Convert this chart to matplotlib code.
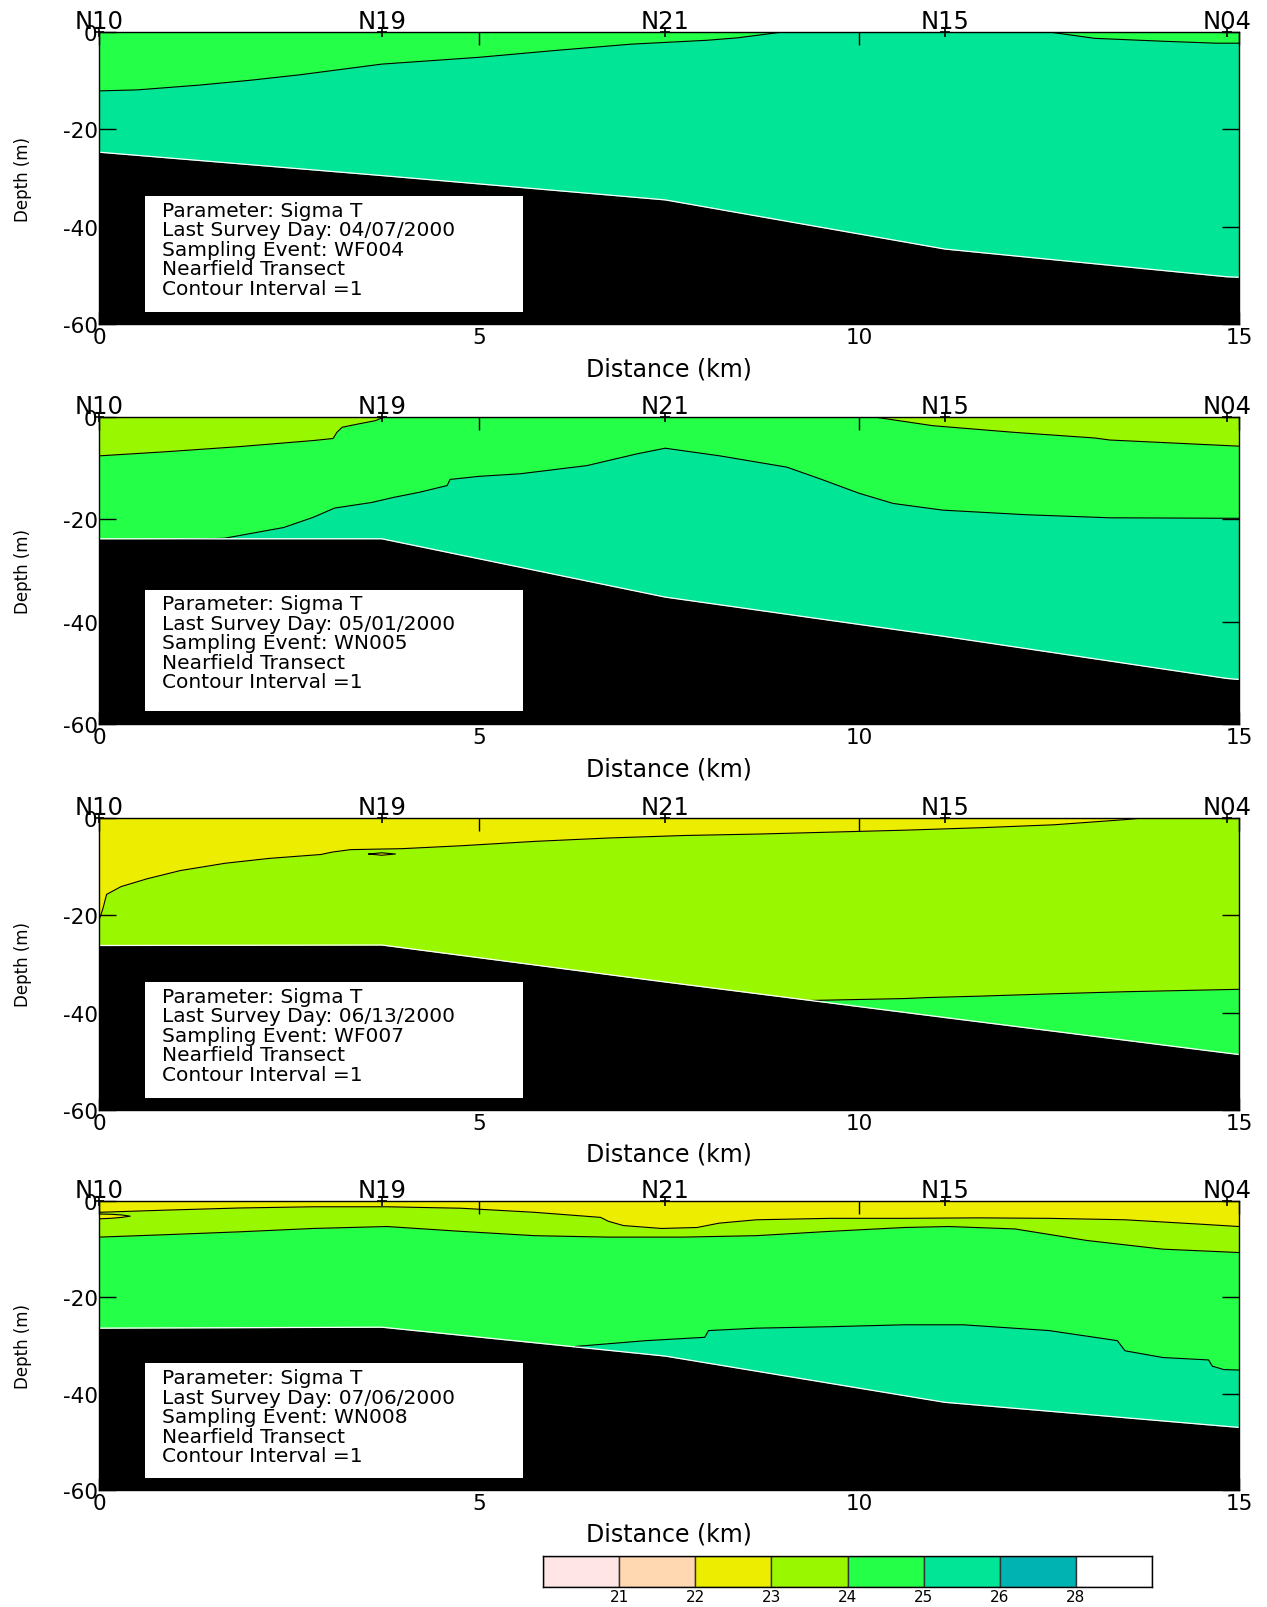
import matplotlib
matplotlib.use('Agg')
import matplotlib.pyplot as plt
from matplotlib.patches import Rectangle
from matplotlib.transforms import blended_transform_factory

plt.rcParams['font.family'] = ['DejaVu Sans']

# Station positions along the transect (km)
stations = ['N10', 'N19', 'N21', 'N15', 'N04']
station_km = [0, 3.72, 7.45, 11.13, 14.84]

# legend classes
cbar_colors = ['#FFE5E5', '#FFD7B1', '#EDED00', '#99F700', '#24FF48', '#00E696', '#00B3B3', '#FFFFFF']
cbar_labels = ['21', '22', '23', '24', '25', '26', '28']
yellow, lime, green, teal = '#EDED00', '#99F700', '#24FF48', '#00E696'

# bottom depth (m) at the stations + end of transect
bathy_km = [0, 3.72, 7.45, 11.13, 14.84, 15.0]
p1_bathy = [24.7, 29.5, 34.5, 44.6, 50.3, 50.4]
p2_bathy = [23.8, 23.8, 35.2, 42.9, 51.1, 51.3]
p3_bathy = [26.2, 26.1, 33.7, 41.0, 48.3, 48.6]
p4_bathy = [26.4, 26.2, 32.2, 41.8, 46.8, 47.0]

# ---- 04/07/2000 isopycnal depths (m)
p1_x25 = [0, 0.5, 1.33, 2.0, 2.64, 3.72, 5.0, 6.0, 7.0, 8.0, 8.4, 8.8, 9.0, 12.5, 13.1, 14.0, 14.7, 15.0]
p1_d25 = [12.1, 11.9, 10.9, 9.9, 8.8, 6.6, 5.2, 3.8, 2.5, 1.7, 1.2, 0.4, 0.0, 0.0, 1.3, 1.9, 2.3, 2.3]

# ---- 05/01/2000
p2_x24 = [0, 0.87, 1.84, 2.82, 3.08, 3.13, 3.2, 3.4, 3.64, 3.75, 10.2, 10.97, 12.04, 13.1, 13.3, 15.0]
p2_d24 = [7.6, 6.8, 5.8, 4.6, 4.2, 3.0, 2.0, 1.4, 0.7, 0.0, 0.0, 1.7, 3.0, 4.1, 4.5, 5.7]
p2_x25 = [0, 1.0, 1.65, 2.43, 2.82, 3.1, 3.59, 3.88, 4.22, 4.58, 4.62, 5.0, 5.54, 6.42, 7.08, 7.45,
          8.17, 9.05, 9.49, 10.0, 10.45, 11.1, 12.2, 13.3, 15.0]
p2_d25 = [24.3, 24.0, 23.7, 21.6, 19.6, 17.8, 16.7, 15.7, 14.7, 13.4, 12.2, 11.6, 11.1, 9.5, 7.2, 6.1,
          7.6, 9.8, 12.1, 14.9, 16.9, 18.2, 19.1, 19.7, 19.8]

# ---- 06/13/2000
p3_x23 = [0, 0.05, 0.1, 0.29, 0.63, 1.07, 1.66, 2.24, 2.92, 3.07, 3.31, 3.99, 4.77, 5.74, 6.72,
          7.69, 8.67, 9.64, 10.61, 11.59, 12.56, 13.53, 13.73, 15.0]
p3_d23 = [21.0, 18.7, 15.7, 14.1, 12.5, 10.8, 9.3, 8.3, 7.5, 7.0, 6.5, 6.3, 5.7, 4.8, 4.1,
          3.6, 3.3, 2.9, 2.5, 2.0, 1.4, 0.3, 0.0, 0.0]
p3_x24 = [0, 9.0, 9.35, 10.6, 10.9, 11.6, 12.6, 13.5, 15.0]
p3_d24 = [60, 60, 37.5, 37.1, 36.9, 36.6, 36.1, 35.7, 35.2]
p3_lens_x = [3.55, 3.72, 3.9]
p3_lens_top = [7.4, 7.15, 7.4]
p3_lens_bot = [7.4, 7.65, 7.4]

# ---- 07/06/2000
p4_x23 = [0, 0.87, 1.85, 2.82, 3.79, 4.76, 5.73, 6.6, 6.7, 6.9, 7.4, 7.87, 8.16, 8.65, 9.62,
          10.6, 11.56, 12.5, 13.5, 14.48, 15.0]
p4_d23 = [2.35, 1.9, 1.45, 1.2, 1.2, 1.5, 2.35, 3.4, 4.2, 5.1, 5.7, 5.5, 4.6, 3.9, 3.6,
          3.6, 3.5, 3.6, 3.9, 4.8, 5.3]
p4_x24 = [0, 0.87, 1.85, 2.82, 3.79, 4.76, 5.73, 6.7, 7.68, 8.65, 9.62, 10.6, 11.18, 12.05, 13.0, 14.0, 15.0]
p4_d24 = [7.5, 7.0, 6.4, 5.7, 5.3, 6.3, 7.2, 7.5, 7.5, 7.2, 6.3, 5.5, 5.3, 5.8, 8.2, 10.0, 10.7]
p4_x25 = [0, 6.0, 6.27, 7.19, 7.97, 8.02, 8.65, 9.62, 10.6, 11.37, 12.5, 13.4, 13.5, 14.0, 14.6, 14.65, 14.8, 15.0]
p4_d25 = [60, 60, 30.2, 29.0, 28.3, 26.9, 26.4, 26.1, 25.7, 25.7, 26.9, 29.0, 31.1, 32.5, 33.0, 34.3, 35.0, 35.1]
p4_lens_x = [0, 0.15, 0.3, 0.41]
p4_lens_top = [2.7, 2.75, 2.9, 3.15]
p4_lens_bot = [3.7, 3.6, 3.4, 3.15]

survey_days = ['04/07/2000', '05/01/2000', '06/13/2000', '07/06/2000']
events = ['WF004', 'WN005', 'WF007', 'WN008']

W, H = 1267, 1608
fig = plt.figure(figsize=(W / 100, H / 100), dpi=100)

L, R = 99, 1239


def neg(v):
    return [-d for d in v]


def draw_panel(top, bottom, base, layers, bathy, day, event, lenses=()):
    h = bottom - top
    ax = fig.add_axes([L / W, 1 - bottom / H, (R - L) / W, h / H])
    ax.set_xlim(0, 15)
    ax.set_ylim(-60, 0)

    # water column: densest class first, lighter classes painted over it
    ax.fill_between([0, 15], 0, -60, color=base, lw=0, zorder=1)
    for xs, ds, col in layers:
        ax.fill_between(xs, 0, neg(ds), color=col, lw=0, zorder=1)
    for xs, top_d, bot_d, col in lenses:
        ax.fill_between(xs, neg(top_d), neg(bot_d), color=col, lw=0, zorder=1)
        ax.plot(xs + xs[::-1], neg(top_d) + neg(bot_d)[::-1], color='k', lw=0.8, zorder=2)
    for xs, ds, col in layers:
        ax.plot(xs, neg(ds), color='k', lw=0.8, zorder=2)

    # sea floor
    ax.fill_between(bathy_km, neg(bathy), -60, color='black', lw=0, zorder=3)
    ax.plot(bathy_km, neg(bathy), color='white', lw=0.9, zorder=3)

    # ticks
    ax.set_xticks([0, 5, 10, 15])
    ax.set_xticklabels(['0', '5', '10', '15'])
    ax.set_yticks([0, -20, -40, -60])
    ax.set_yticklabels(['0', '-20', '-40', '-60'])
    ax.tick_params(axis='x', direction='in', top=True, bottom=True, length=9,
                   width=1, labelsize=15.5, pad=2)
    ax.tick_params(axis='y', direction='in', left=True, right=True, length=12.5,
                   width=1, labelsize=15.5, pad=1)
    for s in ax.spines.values():
        s.set_linewidth(1)
        s.set_zorder(6)

    # stations on the top edge
    trans = blended_transform_factory(ax.transData, ax.transAxes)
    ax.plot(station_km, [0] * len(station_km), '+', color='k', ms=7, mew=1.2,
            clip_on=False, zorder=7)
    for name, x in zip(stations, station_km):
        ax.annotate(name, (x, 1), xycoords=trans, xytext=(0, 3), textcoords='offset points',
                    ha='center', va='baseline', fontsize=17.5)

    # info box
    ax.add_patch(Rectangle((0.04, 0.041), 0.332, 0.397, transform=ax.transAxes,
                           facecolor='white', edgecolor='none', zorder=4))
    box_top = bottom - 0.438 * h
    lines = ['Parameter: Sigma T', 'Last Survey Day: ' + day, 'Sampling Event: ' + event,
             'Nearfield Transect', 'Contour Interval =1']
    for i, t in enumerate(lines):
        yy = box_top + 14 + 19.6 * i
        fig.text(162 / W, 1 - yy / H, t, ha='left', va='center', fontsize=14.5, zorder=5)

    fig.text((L + R) / 2 / W, 1 - (bottom + 44) / H, 'Distance (km)', ha='center',
             va='center', fontsize=17)
    fig.text(23 / W, 1 - (top + bottom) / 2 / H, 'Depth (m)', rotation=90, ha='center',
             va='center', fontsize=12)
    return ax


draw_panel(33, 325, teal, [(p1_x25, p1_d25, green)], p1_bathy, survey_days[0], events[0])
draw_panel(418, 725, teal, [(p2_x25, p2_d25, green), (p2_x24, p2_d24, lime)],
           p2_bathy, survey_days[1], events[1])
draw_panel(819, 1111, green, [(p3_x24, p3_d24, lime), (p3_x23, p3_d23, yellow)],
           p3_bathy, survey_days[2], events[2],
           lenses=[(p3_lens_x, p3_lens_top, p3_lens_bot, yellow)])
draw_panel(1202, 1491, teal, [(p4_x25, p4_d25, green), (p4_x24, p4_d24, lime),
                              (p4_x23, p4_d23, yellow)],
           p4_bathy, survey_days[3], events[3],
           lenses=[(p4_lens_x, p4_lens_top, p4_lens_bot, yellow)])

# colour key
cax = fig.add_axes([543 / W, 1 - 1588 / H, 609 / W, 31 / H])
cax.bar(range(len(cbar_colors)), 1, width=1, align='edge', color=cbar_colors,
        edgecolor='#333333', linewidth=1)
cax.set_xlim(0, len(cbar_colors))
cax.set_ylim(0, 1)
cax.set_yticks([])
cax.set_xticks(range(1, len(cbar_colors)))
cax.set_xticklabels(cbar_labels)
cax.tick_params(axis='x', length=0, labelsize=11, pad=1.5)
for s in cax.spines.values():
    s.set_linewidth(1)

fig.savefig('out.png', dpi=100)
